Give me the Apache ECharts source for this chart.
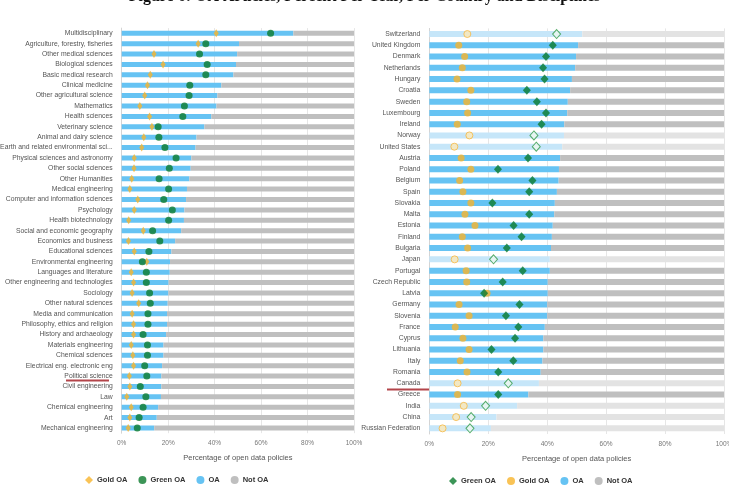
<!DOCTYPE html>
<html>
<head>
<meta charset="utf-8">
<style>
  html, body { margin: 0; padding: 0; background: #fff; }
  #chart { width: 729px; height: 494px; }
</style>
<script src="https://cdn.jsdelivr.net/npm/echarts@6/dist/echarts.min.js"></script>
</head>
<body>
<div id="chart"></div>
<script>
// left panel: disciplines, top to bottom
var disciplines = [
  'Multidisciplinary', 'Agriculture, forestry, fisheries', 'Other medical sciences', 'Biological sciences',
  'Basic medical research', 'Clinical medicine', 'Other agricultural science', 'Mathematics',
  'Health sciences', 'Veterinary science', 'Animal and dairy science', 'Earth and related environmental sci...',
  'Physical sciences and astronomy', 'Other social sciences', 'Other Humanities', 'Medical engineering',
  'Computer and information sciences', 'Psychology', 'Health biotechnology', 'Social and economic geography',
  'Economics and business', 'Educational sciences', 'Environmental engineering', 'Languages and literature',
  'Other engineering and technologies', 'Sociology', 'Other natural sciences', 'Media and communication',
  'Philosophy, ethics and religion', 'History and archaeology', 'Materials engineering', 'Chemical sciences',
  'Electrical eng. electronic eng', 'Political science', 'Civil engineering', 'Law',
  'Chemical engineering', 'Art', 'Mechanical engineering'
];
var discOA = [73.9, 50.5, 49.7, 49.2, 48.1, 42.9, 41.2, 40.8, 38.6, 35.6, 32.2, 31.8, 30.0, 29.7, 29.1, 28.1,
  27.7, 27.0, 26.8, 25.6, 23.0, 21.4, 20.8, 20.7, 20.2, 20.1, 19.8, 19.5, 19.5, 19.1, 18.0, 18.0,
  17.4, 17.1, 17.1, 16.9, 15.7, 15.1, 14.0];
var discGreen = [64.1, 36.2, 33.5, 36.8, 36.2, 29.3, 29.0, 27.0, 26.3, 15.7, 16.0, 18.6, 23.4, 20.5, 16.1, 20.2,
  18.1, 21.8, 20.2, 13.3, 16.4, 11.7, 8.9, 10.6, 10.6, 12.0, 12.3, 11.3, 11.3, 9.2, 11.1, 11.1,
  9.9, 10.8, 8.0, 10.4, 9.2, 7.5, 6.7];
var discGold = [40.7, 32.9, 13.9, 17.8, 12.3, 11.1, 9.9, 7.8, 12.0, 13.0, 9.5, 8.6, 5.4, 5.3, 4.3, 3.5,
  6.9, 5.4, 3.0, 9.3, 2.9, 5.4, 10.8, 4.1, 5.1, 4.5, 7.3, 4.5, 5.1, 5.1, 4.1, 4.8,
  5.1, 3.3, 3.5, 2.2, 4.1, 3.5, 2.8];

// right panel: countries, top to bottom
var countries = [
  'Switzerland', 'United Kingdom', 'Denmark', 'Netherlands', 'Hungary', 'Croatia', 'Sweden', 'Luxembourg',
  'Ireland', 'Norway', 'United States', 'Austria', 'Poland', 'Belgium', 'Spain', 'Slovakia', 'Malta',
  'Estonia', 'Finland', 'Bulgaria', 'Japan', 'Portugal', 'Czech Republic', 'Latvia', 'Germany', 'Slovenia',
  'France', 'Cyprus', 'Lithuania', 'Italy', 'Romania', 'Canada', 'Greece', 'India', 'China', 'Russian Federation'
];
var countryOA = [51.9, 50.5, 49.8, 49.5, 48.4, 47.8, 47.0, 46.8, 45.8, 45.7, 45.1, 44.4, 44.0, 43.9, 43.3, 42.6,
  42.4, 41.9, 41.6, 41.3, 40.9, 40.9, 40.2, 40.2, 40.0, 40.0, 39.2, 38.7, 38.7, 38.4, 37.8, 37.2,
  33.6, 29.8, 22.8, 20.9];
var countryGreen = [43.2, 41.9, 39.6, 38.6, 39.1, 33.1, 36.5, 39.6, 38.1, 35.5, 36.3, 33.5, 23.3, 35.0, 33.9, 21.4,
  33.9, 28.6, 31.3, 26.3, 21.8, 31.7, 24.9, 18.6, 30.6, 26.0, 30.2, 29.1, 21.1, 28.5, 23.4, 26.8,
  23.4, 19.1, 14.2, 13.8];
var countryGold = [12.9, 10.0, 12.0, 11.2, 9.4, 14.1, 12.7, 13.0, 9.5, 13.6, 8.5, 10.8, 14.1, 10.3, 11.4, 14.1,
  12.1, 15.5, 11.2, 13.0, 8.6, 12.5, 12.7, 19.6, 10.1, 13.5, 8.8, 11.4, 13.5, 10.5, 12.8, 9.6,
  9.6, 11.7, 9.1, 4.5];
// non-EU countries, drawn pale
var paleCountries = ['Switzerland', 'Norway', 'United States', 'Japan', 'Canada', 'India', 'China', 'Russian Federation'];

var BLUE = '#66c3f3', GREY = '#bfbfbf', GREEN = '#0b7a2d', GOLD = '#f8b42c';
var LABEL_FONT = "'Liberation Sans', Arial, sans-serif";

var myChart = echarts.init(document.getElementById('chart'));

function isPale(i) { return paleCountries.indexOf(countries[i]) >= 0; }

function xAxisFor(gi) {
  return {
    type: 'value', gridIndex: gi, min: 0, max: 100, interval: 20,
    name: 'Percentage of open data policies', nameLocation: 'middle', nameGap: 21,
    nameTextStyle: { color: '#555', fontSize: 7.5, fontFamily: LABEL_FONT },
    axisLabel: { formatter: '{value}%', color: '#777', fontSize: 6.5, margin: 7, fontFamily: LABEL_FONT },
    axisLine: { show: false }, axisTick: { show: false },
    splitLine: { lineStyle: { color: '#e6e6e6', width: 1 } }
  };
}
function yAxisFor(gi, cats, offset, margin) {
  return {
    type: 'category', gridIndex: gi, data: cats, inverse: true, offset: offset,
    axisLabel: { interval: 0, color: '#555', fontSize: 6.8, margin: margin, fontFamily: LABEL_FONT },
    axisLine: { lineStyle: { color: '#d4d4d4' } },
    axisTick: { length: 3, lineStyle: { color: '#d4d4d4' } }
  };
}

myChart.setOption({
  animation: false,
  title: {
    text: 'Figure 6: OA Articles, Percent Per Year, Per Country and Disciplines',
    left: 'center', top: -16,
    textStyle: { fontFamily: "'Liberation Serif', 'Times New Roman', serif", fontWeight: 'bold', fontSize: 16, color: '#111' }
  },
  grid: [
    { left: 121.7, right: 375, top: 28.1, height: 405.1, containLabel: false, outerBoundsMode: 'none' },
    { left: 429.3, right: 5, top: 28.4, height: 405.6, containLabel: false, outerBoundsMode: 'none' }
  ],
  xAxis: [xAxisFor(0), xAxisFor(1)],
  yAxis: [yAxisFor(0, disciplines, 4, 5), yAxisFor(1, countries, 1, 8)],
  legend: [
    {
      left: 80, top: 471, itemWidth: 8, itemHeight: 8, itemGap: 11,
      textStyle: { fontSize: 7.5, fontWeight: 'bold', color: '#333', padding: [0, 0, 0, -1] },
      data: [{ name: 'Gold OA', icon: 'diamond' }, { name: 'Green OA', icon: 'circle' },
             { name: 'OA', icon: 'circle' }, { name: 'Not OA', icon: 'circle' }]
    },
    {
      left: 444, top: 472, itemWidth: 8, itemHeight: 8, itemGap: 11,
      textStyle: { fontSize: 7.5, fontWeight: 'bold', color: '#333', padding: [0, 0, 0, -1] },
      data: [{ name: 'Green OA', icon: 'diamond' }, { name: 'Gold OA', icon: 'circle' },
             { name: 'OA', icon: 'circle' }, { name: 'Not OA', icon: 'circle' }]
    }
  ],
  graphic: [
    { type: 'line', shape: { x1: 66, y1: 380.5, x2: 109, y2: 380.5 }, style: { stroke: '#b3454a', lineWidth: 2 } },
    { type: 'line', shape: { x1: 387, y1: 389.5, x2: 429, y2: 389.5 }, style: { stroke: '#b3454a', lineWidth: 2 } }
  ],
  series: [
    // disciplines
    { name: 'OA', type: 'bar', stack: 'disc', xAxisIndex: 0, yAxisIndex: 0, barWidth: 5,
      itemStyle: { color: BLUE }, data: discOA },
    { name: 'Not OA', type: 'bar', stack: 'disc', xAxisIndex: 0, yAxisIndex: 0, barWidth: 5,
      itemStyle: { color: GREY }, data: discOA.map(function (v) { return +(100 - v).toFixed(1); }) },
    { name: 'Gold OA', type: 'scatter', xAxisIndex: 0, yAxisIndex: 0, symbol: 'diamond', symbolSize: [5, 8], z: 3,
      itemStyle: { color: GOLD }, data: discGold.map(function (v, i) { return [v, i]; }) },
    { name: 'Green OA', type: 'scatter', xAxisIndex: 0, yAxisIndex: 0, symbol: 'circle', symbolSize: 7, z: 4,
      itemStyle: { color: GREEN }, data: discGreen.map(function (v, i) { return [v, i]; }) },
    // countries
    { name: 'OA', type: 'bar', stack: 'ctry', xAxisIndex: 1, yAxisIndex: 1, barWidth: 6,
      itemStyle: { color: BLUE },
      data: countryOA.map(function (v, i) {
        return isPale(i) ? { value: v, itemStyle: { color: '#c6e6f9' } } : v;
      }) },
    { name: 'Not OA', type: 'bar', stack: 'ctry', xAxisIndex: 1, yAxisIndex: 1, barWidth: 6,
      itemStyle: { color: GREY },
      data: countryOA.map(function (v, i) {
        var rest = +(100 - v).toFixed(1);
        return isPale(i) ? { value: rest, itemStyle: { color: '#e3e3e3' } } : rest;
      }) },
    { name: 'Gold OA', type: 'scatter', xAxisIndex: 1, yAxisIndex: 1, symbol: 'circle', symbolSize: 7, z: 3,
      itemStyle: { color: GOLD },
      data: countryGold.map(function (v, i) {
        return isPale(i) ? { value: [v, i], itemStyle: { color: '#fde8b6', borderColor: '#f5b844', borderWidth: 1 } } : [v, i];
      }) },
    { name: 'Green OA', type: 'scatter', xAxisIndex: 1, yAxisIndex: 1, symbol: 'diamond', symbolSize: [8, 9], z: 4,
      itemStyle: { color: GREEN },
      data: countryGreen.map(function (v, i) {
        return isPale(i) ? { value: [v, i], itemStyle: { color: '#eef8f0', borderColor: '#2f9a48', borderWidth: 1 } } : [v, i];
      }) }
  ]
});
</script>
</body>
</html>
